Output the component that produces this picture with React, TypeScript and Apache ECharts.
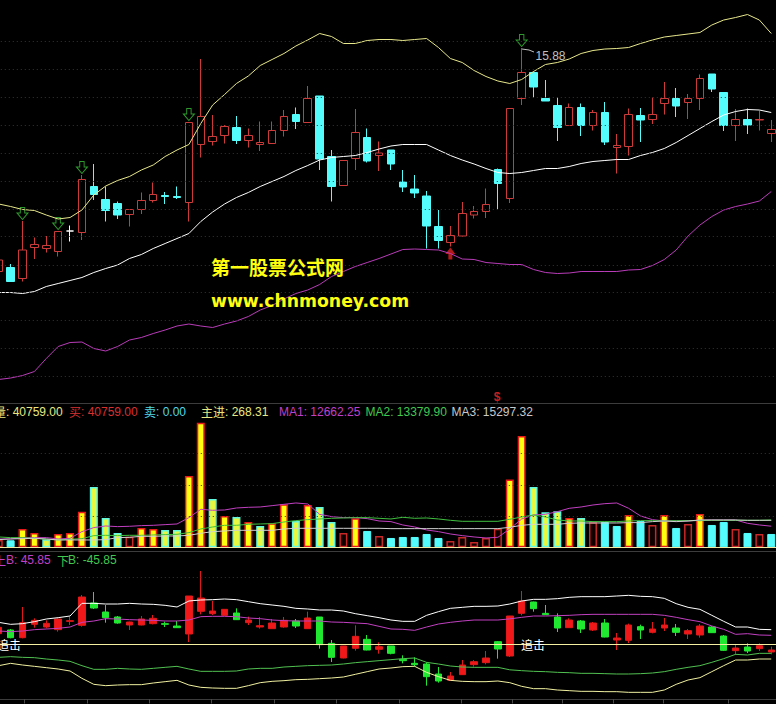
import React, { useEffect, useRef } from "react";
import * as echarts from "echarts";

// [open, close, low, high]
const priceCandles = [
  [11.41,11.64,11.34,11.71],[11.49,11.21,11.21,11.56],[11.27,11.84,11.21,12.42],[11.89,11.95,11.66,12.09],[11.87,11.93,11.79,12.12],
  [11.81,12.21,11.71,12.21],[12.22,12.22,12.01,12.33],[12.19,13.25,12.04,13.34],[13.11,12.95,12.84,13.56],[12.85,12.63,12.41,13.11],
  [12.77,12.54,12.46,12.81],[12.55,12.65,12.31,12.65],[12.65,12.83,12.56,12.99],[12.83,12.95,12.79,13.19],[12.93,12.91,12.76,13.00],
  [12.91,12.89,12.86,13.11],[12.79,14.39,12.41,14.39],[13.95,14.51,13.69,15.66],[14.01,14.11,13.93,14.54],[14.13,14.31,13.97,14.34],
  [14.29,14.03,13.96,14.52],[14.03,14.13,13.89,14.27],[13.95,13.99,13.82,14.41],[13.97,14.23,13.97,14.41],[14.23,14.51,14.11,14.64],
  [14.55,14.41,14.26,14.69],[14.39,14.87,14.39,15.12],[14.92,13.66,13.44,14.92],[13.71,13.11,12.81,13.84],[13.13,13.63,13.13,13.63],
  [13.67,14.19,13.44,14.66],[14.09,13.62,13.59,14.27],[13.73,13.78,13.42,14.01],[13.84,13.56,13.44,13.84],[13.20,13.10,13.00,13.44],
  [13.06,12.98,12.88,13.34],[12.92,12.32,11.87,13.02],[12.31,12.03,11.87,12.64],[11.99,12.13,11.91,12.32],[12.12,12.57,12.11,12.80],
  [12.54,12.61,12.47,12.72],[12.61,12.75,12.48,13.07],[13.45,13.17,12.66,13.47],[12.87,14.67,12.78,14.67],[14.87,15.39,14.74,15.88],
  [15.39,15.10,14.89,15.41],[14.87,14.82,14.82,15.24],[14.73,14.29,14.02,14.89],[14.33,14.69,14.32,14.77],[14.69,14.33,14.12,14.77],
  [14.33,14.59,14.23,14.64],[14.59,14.00,13.94,14.80],[13.89,13.93,13.37,14.16],[13.91,14.55,13.73,14.67],[14.53,14.44,14.00,14.68],
  [14.45,14.55,14.36,14.89],[14.77,14.87,14.55,15.20],[14.87,14.72,14.50,15.08],[14.79,14.87,14.46,14.96],[14.87,15.27,14.64,15.35],
  [15.36,15.06,15.00,15.36],[14.99,14.33,14.22,14.99],[14.33,14.45,14.02,14.66],[14.45,14.34,14.16,14.67],[14.44,14.45,14.23,14.63],
  [14.17,14.25,14.00,14.44],
];
const whiteCrossIndex = 6;

const bollUpper = [12.76,12.71,12.65,12.63,12.54,12.46,12.49,12.64,12.94,13.12,13.23,13.31,13.44,13.54,13.71,13.84,13.95,14.37,14.74,14.95,15.17,15.32,15.53,15.65,15.77,15.92,16.04,16.17,16.11,15.97,15.97,16.03,16.05,16.05,16.03,16.05,16.07,15.89,15.67,15.59,15.43,15.31,15.22,15.17,15.25,15.41,15.55,15.59,15.66,15.77,15.83,15.86,15.87,15.89,15.97,16.04,16.10,16.13,16.16,16.19,16.34,16.44,16.49,16.55,16.44,16.17];
const bollMid = [10.99,10.99,10.97,11.01,11.11,11.17,11.23,11.29,11.39,11.47,11.54,11.67,11.75,11.87,11.97,12.07,12.17,12.41,12.60,12.76,12.89,12.99,13.11,13.21,13.31,13.43,13.53,13.64,13.69,13.71,13.73,13.79,13.86,13.92,13.95,13.95,13.95,13.84,13.73,13.64,13.56,13.47,13.39,13.37,13.39,13.43,13.47,13.47,13.51,13.57,13.61,13.63,13.65,13.65,13.73,13.79,13.87,13.99,14.13,14.27,14.41,14.54,14.61,14.65,14.64,14.59];
const bollLower = [9.25,9.28,9.33,9.41,9.67,9.91,9.99,10.00,9.87,9.82,9.91,10.04,10.09,10.17,10.24,10.32,10.36,10.32,10.29,10.36,10.42,10.51,10.64,10.73,10.86,10.97,11.04,11.15,11.31,11.41,11.51,11.59,11.67,11.76,11.85,11.86,11.85,11.84,11.77,11.66,11.65,11.59,11.57,11.55,11.55,11.45,11.39,11.37,11.38,11.41,11.41,11.41,11.41,11.44,11.45,11.53,11.65,11.84,12.12,12.34,12.51,12.64,12.71,12.76,12.82,13.01];

const sellIndex = [2, 5, 7, 16, 44];
const sellPrice = [12.57, 12.37, 13.49, 14.55, 16.03];
const buyIndex = [38];
const buyPrice = [11.77];
const priceLevels = [16.02,15.45,14.89,14.33,13.77,13.21,12.66,12.11,11.54,10.99,10.43,9.87,9.31];

const volumes = [4400,4200,11000,8600,4800,8000,8600,21400,36200,17600,8600,6400,11600,11000,10400,10400,42800,74800,29000,18800,18200,15200,12800,14400,25800,15800,25400,24200,15200,8600,17400,9800,6800,5600,6200,6200,8000,5600,3800,6200,3200,5600,11200,40759,66800,36200,21000,21600,17600,17600,15000,15200,12800,19400,15800,13400,19400,11600,14000,20000,13400,15200,11000,8600,8000,8000];
// r: red edge + yellow core, c: cyan edge + yellow core, h: hollow red, s: solid cyan
const volumeKinds = ["h","s","r","r","c","r","r","r","c","c","c","h","r","r","c","c","r","r","c","r","c","r","c","r","r","c","r","c","c","h","r","s","h","s","s","s","s","s","h","h","h","h","h","r","r","c","c","c","r","c","h","s","s","r","s","h","r","s","h","r","s","s","h","s","h","s"];
const volMa1 = [5000,5000,5800,5800,5800,5000,5400,9400,11800,12800,12400,12600,13000,13200,13600,14000,17800,22800,22200,22400,23600,24000,24200,25000,25800,26600,26000,19800,18400,17800,17800,17200,15800,15400,13400,12200,10400,9400,8000,7000,6200,5600,6000,11000,17000,19400,19800,21400,23400,24200,25400,26200,26600,23400,18800,16600,15800,15800,15800,16200,16400,16400,16400,14400,13400,12662];
const volMa2 = [6200,5800,5800,5400,4800,4400,4800,5200,7000,7200,7000,7200,7200,7400,7600,7800,8800,11000,12200,13200,13200,13800,14000,14200,15200,16000,16600,17000,17400,17600,17800,17800,17400,17000,18000,17400,17600,17000,16200,15600,15600,15600,15600,16800,18200,19400,18200,16400,15800,15800,15400,15400,15400,15800,16000,16000,15800,16000,16000,16000,16200,16200,16200,16200,16200,16400];
const volMa3 = [4600,5000,5200,5400,5000,4400,4400,4400,4400,4600,5800,6000,6600,6600,6800,6800,7200,8400,9400,9800,10200,10200,10200,10200,11000,11400,11400,11400,11400,11400,11400,11400,11400,11200,11200,11200,11200,11200,11200,11200,11200,11200,11200,12000,13200,13800,13800,13800,14400,14600,14600,14600,14600,14800,14800,15400,15800,15400,15800,16400,16400,16400,16400,16200,16200,16200];
const volumeLevels = [56400, 37400, 18800];

const lowerCandles = [
  [19.2,30.6,16.8,34.8],[25.8,12,10.8,27.6],[12,39,10.8,67.2],[36,43.2,30,46.8],[31.2,37.8,28.8,43.2],[26.4,45.6,22.8,46.8],[41.4,42.6,34.8,49.8],
  [34.2,85.2,31.8,88.8],[74.4,65.4,63.6,94.2],[58.2,48,39,70.8],[49.2,38.4,37.2,51],[34.8,40.2,25.8,40.8],[34.8,45.6,34.2,51],[37.2,46.8,36,52.8],
  [37.2,36,31.2,40.8],[33,30,29.4,42],[18.6,87,4.2,87],[59.4,83.4,54,132],[55.2,60,52.8,78],[52.2,63,51.6,63],[56.4,44.4,43.8,64.8],
  [39,43.8,34.8,49.8],[31.2,33.6,28.2,49.2],[28.2,38.4,27.6,45.6],[31.2,43.2,30,49.2],[42,33,29.4,45.6],[28.2,47.4,27.6,58.8],[49.2,-0.6,-7.8,49.2],
  [1.8,-23.4,-31.8,7.8],[-24.6,-3,-25.2,-3],[-7.2,14.4,-11.4,34.2],[9,-10.2,-10.8,16.8],[-9,-4.2,-16.8,3.6],[-3,-16.2,-18,-3],[-27,-29.4,-34.2,-19.8],
  [-34.2,-36.6,-39.6,-23.4],[-35.4,-58.2,-74.4,-32.4],[-53.4,-66,-69,-40.8],[-64.8,-57,-66,-49.8],[-54.6,-37.2,-55.2,-28.2],[-36.6,-31.2,-40.2,-28.2],
  [-33,-24.6,-36,-12],[4.8,-8.4,-25.8,6],[-21,51,-22.8,51],[55.8,78,52.2,96],[76.2,64.2,58.8,76.8],[55.8,53.4,52.8,70.8],[49.2,29.4,22.2,55.8],
  [30,43.8,29.4,46.8],[42,27.6,20.4,43.8],[25.8,38.4,24,40.2],[38.4,13.2,12.6,45.6],[7.8,11.4,-10.2,20.4],[7.2,34.8,2.4,37.2],[31.8,25.8,9.6,35.4],
  [21.6,27.6,19.8,40.2],[29.4,34.8,24,47.4],[29.4,21.6,15,36.6],[18.6,24.6,9.6,27.6],[16.8,33,12,36.6],[31.2,21,20.4,33],[15,-10.8,-12,16.8],
  [-11.4,-6.6,-19.2,0.6],[-4.8,-12,-15.6,1.8],[-7.8,-2.4,-12,1.8],[-13.8,-10.2,-18,-4.2],
];
const bandOuterUp = [39.6,36,37.2,40.8,45.6,48,51,73.8,73.8,72.6,72.6,73.8,72.6,72,70.2,67.2,78,79.8,80.4,81.6,80.4,76.8,73.2,70.8,68.4,64.8,63.6,61.8,61.8,60,55.2,51.6,48,43.8,41.4,41.4,52.2,58.8,64.8,66.6,68.4,68.4,69,72.6,78,81,81,82.2,84.6,85.8,85.8,85.8,87,88.2,86.4,85.8,82.8,73.2,66.6,63,52.2,41.4,31.2,31.2,27,26.4];
const bandUp = [24,22.8,24,26.4,27.6,28.8,31.2,39.6,42,46.2,45.6,44.4,43.8,43.2,42,42,43.8,49.8,50.4,50.4,49.8,47.4,46.2,43.8,42.6,42,42,42,40.2,39.6,38.4,37.2,32.4,27.6,27,25.2,31.2,36.6,39.6,42,43.8,43.8,43.8,45.85,48.6,51,51,51.6,52.2,53.4,54,54,54,54,54,54,52.2,48.6,44.4,40.8,33,27,18,19.2,16.8,16.2];
const bandDown = [-23.4,-22.2,-23.4,-24,-26.4,-28.2,-30.6,-38.4,-45,-45,-43.2,-44.4,-45,-43.2,-41.4,-39.6,-44.4,-48.6,-48.6,-48.6,-48,-44.4,-43.2,-43.2,-40.8,-39.6,-38.4,-37.8,-37.2,-35.4,-33,-31.2,-29.4,-27.6,-25.8,-24.6,-32.4,-35.4,-39,-40.8,-41.4,-41.4,-41.4,-45.85,-47.4,-48.6,-49.2,-50.4,-51,-52.2,-52.2,-52.8,-53.4,-53.4,-52.8,-51.6,-49.2,-45,-41.4,-38.4,-32.4,-25.8,-18,-19.2,-16.2,-16.2];
const bandOuterDown = [-38.4,-34.2,-37.2,-39.6,-42,-44.4,-48,-61.2,-72,-74.4,-73.2,-72.6,-72.6,-69.6,-67.2,-64.8,-73.2,-77.4,-78.6,-79.2,-79.2,-74.4,-69,-66.6,-65.4,-63.6,-63,-61.8,-60.6,-58.8,-54,-49.2,-44.4,-42.6,-40.2,-39.6,-50.4,-58.2,-64.8,-66.6,-67.2,-67.2,-66,-69,-75.6,-79.8,-79.8,-82.2,-83.4,-84.6,-84.6,-85.2,-85.2,-86.4,-86.4,-86.4,-82.2,-72,-64.2,-60,-49.2,-38.4,-28.2,-28.2,-26.4,-26.4];
const lowerLevels = [120];

const categories = priceCandles.map((_, i) => String(i + 1));
const headerLabels = [
  { cjk: "量", x: -6, vx: 6, text: ": 40759.00", fill: "#e8e880" },
  { cjk: "买", x: 69, vx: 81, text: ": 40759.00", fill: "#d83030" },
  { cjk: "卖", x: 144, vx: 156, text: ": 0.00", fill: "#50d8e8" },
  { cjk: "主进", x: 201, vx: 225, text: ": 268.31", fill: "#e8e880" },
  { cjk: "", x: 279, vx: 279, text: "MA1: 12662.25", fill: "#c040c8" },
  { cjk: "", x: 365.5, vx: 365.5, text: "MA2: 13379.90", fill: "#40c850" },
  { cjk: "", x: 451.5, vx: 451.5, text: "MA3: 15297.32", fill: "#c8c8c8" },
];
const bandLabels = [
  { cjk: "上", x: -6, vx: 6, text: "B: 45.85", fill: "#c040c8" },
  { cjk: "下", x: 57, vx: 68, text: "B: -45.85", fill: "#40c850" },
];
const chaseLabel = "追击";
const siteName = "第一股票公式网";
const siteUrl = "www.chnmoney.com";
const peakLabel = "15.88";
const axisTickXs = [24, 87, 149, 211, 274, 336, 399, 461, 512, 562, 613, 663, 728];

const RED = "#cc3a3a";
const CYAN = "#54fcfc";
const NUM_FONT = '12px "Liberation Sans"';
const CJK_FONT = '12px "Noto Sans CJK SC"';
const ARROW_DOWN = "path://M3 0H7V5H10L5 11L0 5H3Z";
const ARROW_UP = "path://M5 0L10 6H7V11H3V6H0Z";

const dotted = (levels: number[]) => ({
  symbol: "none",
  silent: true,
  animation: false,
  label: { show: false },
  lineStyle: { type: [1, 3] as any, color: "#343434", width: 1 },
  data: levels.map((v) => ({ yAxis: v })),
});

const solidRule = (value: number, color: string) => ({
  symbol: "none",
  silent: true,
  animation: false,
  label: { show: false },
  lineStyle: { type: "solid", color, width: 1 },
  data: [{ yAxis: value }],
});

const lineOf = (data: number[], color: string, axis: number, extra: any = {}) => ({
  type: "line",
  data,
  xAxisIndex: axis,
  yAxisIndex: axis,
  symbol: "none",
  silent: true,
  lineStyle: { color, width: 1 },
  ...extra,
});

const volumeStyle = (kind: string) => {
  if (kind === "r") return { color: "#ffff10", borderColor: "#e81818", borderWidth: 1.5 };
  if (kind === "c") return { color: "#e8f840", borderColor: "#60f8e0", borderWidth: 1.5 };
  if (kind === "h") return { color: "#100000", borderColor: "#c82828", borderWidth: 1.5 };
  return { color: CYAN, borderColor: CYAN, borderWidth: 1 };
};

export default function App() {
  const ref = useRef<HTMLDivElement>(null);
  useEffect(() => {
    document.body.style.margin = "0";
    document.body.style.background = "#000";
    const chart = echarts.init(ref.current!, null, { renderer: "svg" });
    const hiddenX = (gridIndex: number) => ({
      type: "category" as const,
      gridIndex,
      data: categories,
      boundaryGap: true,
      axisLine: { show: false },
      axisTick: { show: false },
      axisLabel: { show: false },
      splitLine: { show: false },
    });
    const hiddenY = (gridIndex: number, min: number, max: number) => ({
      type: "value" as const,
      gridIndex,
      min,
      max,
      axisLine: { show: false },
      axisTick: { show: false },
      axisLabel: { show: false },
      splitLine: { show: false },
    });
    const textEl = (text: string, x: number, y: number, fill: string, font: string, extra: any = {}) => ({
      type: "text",
      x,
      y,
      silent: true,
      z: 100,
      style: { text, fill, font, textVerticalAlign: "middle", ...extra },
    });
    const labelEls = (l: any, y: number) => [
      ...(l.cjk ? [textEl(l.cjk, l.x, y, l.fill, CJK_FONT)] : []),
      textEl(l.text, l.vx, y, l.fill, NUM_FONT),
    ];
    const rule = (x1: number, y1: number, x2: number, y2: number, stroke: string) => ({
      type: "line",
      silent: true,
      z: 90,
      shape: { x1, y1, x2, y2 },
      style: { stroke, lineWidth: 1 },
    });
    const gridBase = { left: -7.2, width: 784.4, outerBoundsMode: "none" };
    chart.setOption({
      animation: false,
      backgroundColor: "#000",
      grid: [
        { ...gridBase, top: 0, height: 400 },
        { ...gridBase, top: 403, height: 144.3 },
        { ...gridBase, top: 551, height: 148 },
      ],
      xAxis: [hiddenX(0), hiddenX(1), hiddenX(2)],
      yAxis: [hiddenY(0, 8.84, 16.84), hiddenY(1, 0, 86600), hiddenY(2, -98.4, 168)],
      series: [
        {
          type: "candlestick",
          xAxisIndex: 0,
          yAxisIndex: 0,
          barWidth: 8,
          silent: true,
          data: priceCandles.map((value, i) =>
            i === whiteCrossIndex
              ? { value, itemStyle: { borderColor: "#fff", borderColor0: "#fff", borderColorDoji: "#fff", color: "#fff", color0: "#fff" } }
              : value
          ),
          itemStyle: { color: "#000", color0: CYAN, borderColor: RED, borderColor0: CYAN, borderWidth: 1 },
          markLine: dotted(priceLevels),
        },
        lineOf(bollUpper, "#e8e88c", 0),
        lineOf(bollMid, "#ffffff", 0),
        lineOf(bollLower, "#b83cb8", 0),
        {
          type: "scatter",
          xAxisIndex: 0,
          yAxisIndex: 0,
          symbol: ARROW_DOWN,
          symbolSize: [11, 12],
          silent: true,
          data: sellIndex.map((i, k) => [i, sellPrice[k]]),
          itemStyle: { color: "#000", borderColor: "#38c038", borderWidth: 1 },
        },
        {
          type: "scatter",
          xAxisIndex: 0,
          yAxisIndex: 0,
          symbol: ARROW_UP,
          symbolSize: [10, 12],
          silent: true,
          data: buyIndex.map((i, k) => [i, buyPrice[k]]),
          itemStyle: { color: "#e02020" },
        },
        {
          type: "bar",
          xAxisIndex: 1,
          yAxisIndex: 1,
          barWidth: 8,
          silent: true,
          data: volumes.map((value, i) => ({ value, itemStyle: volumeStyle(volumeKinds[i]) })),
          markLine: dotted(volumeLevels),
        },
        lineOf(volMa1, "#c040c0", 1),
        lineOf(volMa2, "#40c040", 1),
        lineOf(volMa3, "#d0d0d0", 1, { markLine: solidRule(0, "#f0e8a0") }),
        {
          type: "candlestick",
          xAxisIndex: 2,
          yAxisIndex: 2,
          barWidth: 7,
          silent: true,
          data: lowerCandles,
          itemStyle: { color: "#f01818", color0: "#20e830", borderColor: "#e01818", borderColor0: "#20e830", borderWidth: 1 },
          markLine: dotted(lowerLevels),
        },
        lineOf(bandOuterUp, "#ffffff", 2),
        lineOf(bandUp, "#c040c0", 2, { markLine: solidRule(0, "#f4eea0") }),
        lineOf(bandDown, "#50c050", 2),
        lineOf(bandOuterDown, "#f0f0a0", 2),
      ],
      graphic: [
        rule(0, 403.5, 776, 403.5, "#3c3c3c"),
        rule(0, 551.5, 776, 551.5, "#3c3c3c"),
        rule(0, 699.5, 776, 699.5, "#3c3c3c"),
        ...axisTickXs.map((x) => rule(x + 0.5, 699, x + 0.5, 703.5, "#4a4a4a")),
        ...headerLabels.flatMap((l) => labelEls(l, 411.5)),
        ...bandLabels.flatMap((l) => labelEls(l, 560)),
        textEl(chaseLabel, -3, 644, "#ffffff", CJK_FONT),
        textEl(chaseLabel, 521, 644, "#ffffff", CJK_FONT),
        textEl(siteName, 211, 266, "#ffff10", 'bold 19px "Noto Sans CJK SC"'),
        textEl(siteUrl, 211, 301, "#ffff10", 'bold 17.25px "DejaVu Sans"'),
        textEl(peakLabel, 535.5, 55.5, "#c0c0c0", NUM_FONT),
        { type: "polyline", silent: true, z: 90, shape: { points: [[522, 49], [529, 50], [534, 52]] }, style: { stroke: "#c0c0c0", lineWidth: 1, fill: "none" } },
        textEl("$", 497, 397, "#c02020", 'bold 12px "Liberation Sans"', { textAlign: "center" }),
      ],
    });
    return () => chart.dispose();
  }, []);
  return <div ref={ref} style={{ position: "fixed", left: 0, top: 0, width: 776, height: 704, background: "#000" }} />;
}
